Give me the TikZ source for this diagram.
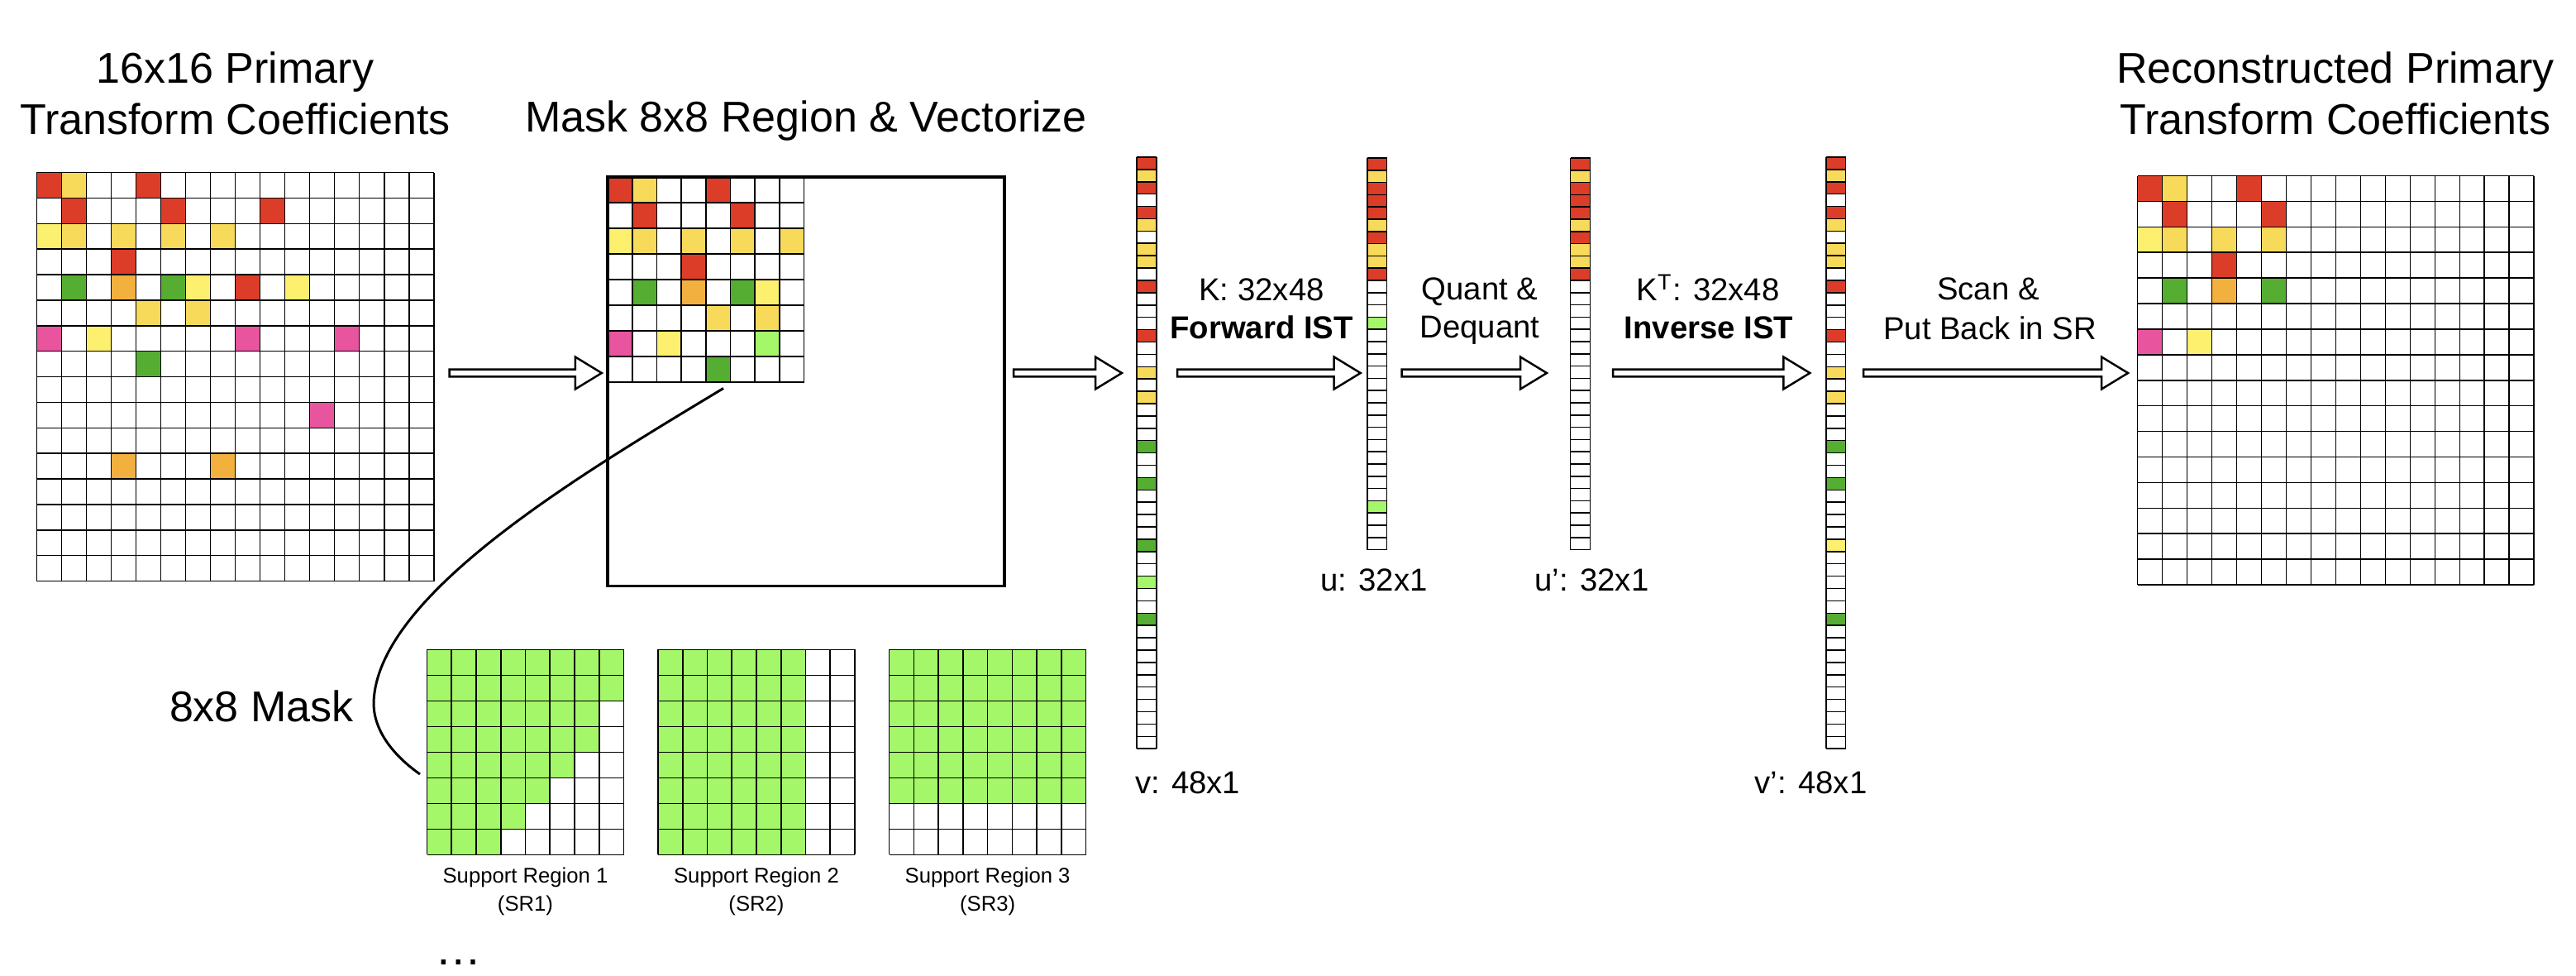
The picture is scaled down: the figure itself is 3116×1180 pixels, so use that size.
\documentclass[tikz,border=0pt]{standalone}
\usepackage{fontspec}
\setmainfont{Liberation Sans}
\usetikzlibrary{calc}
\definecolor{cred}{HTML}{DC3D28}
\definecolor{cgold}{HTML}{F8DA5A}
\definecolor{cly}{HTML}{FCF06E}
\definecolor{corange}{HTML}{F2B13F}
\definecolor{cgreen}{HTML}{55AE32}
\definecolor{clg}{HTML}{A5F76A}
\definecolor{cpink}{HTML}{E9549E}
\newcommand{\ftitle}{\fontsize{14.8}{17}\selectfont}
\newcommand{\flab}{\fontsize{10.9}{13}\selectfont}
\newcommand{\fsr}{\fontsize{7.3}{9}\selectfont}
% grid lines: x0 y0 ncols nrows w h
\newcommand{\mygrid}[6]{%
  \foreach \ii in {0,...,#3}{\draw[gl] ({#1+\ii*#5},#2) -- ({#1+\ii*#5},{#2+#4*#6});}%
  \foreach \jj in {0,...,#4}{\draw[gl] (#1,{#2+\jj*#6}) -- ({#1+#3*#5},{#2+\jj*#6});}%
}
% coloured cells: x0 y0 w h list row/col/colour
\newcommand{\mycells}[5]{%
  \foreach \rr/\cc/\col in {#5}{\fill[\col] ({#1+\cc*#3},{#2+\rr*#4}) rectangle ({#1+(\cc+1)*#3},{#2+(\rr+1)*#4});}%
}
% vector: x0 y0 n w h list index/colour
\newcommand{\myvec}[6]{%
  \foreach \kk/\col in {#6}{\fill[\col] (#1,{#2+(\kk-1)*#5}) rectangle ({#1+#4},{#2+\kk*#5});}%
  \mygrid{#1}{#2}{1}{#3}{#4}{#5}%
}
% hollow block arrow between two named coordinates on one level
\newcommand{\harrow}[2]{%
  \draw[harr] ($(#1)+(0,-4.3)$) -- ($(#2)+(-32,-4.3)$) -- ($(#2)+(-32,-19.5)$) -- (#2)
    -- ($(#2)+(-32,19.5)$) -- ($(#2)+(-32,4.3)$) -- ($(#1)+(0,4.3)$) -- cycle;}
\tikzset{
  gl/.style={line width=0.45pt, black},
  harr/.style={draw=black, fill=white, line width=0.7pt, line join=miter},
  curveline/.style={line width=0.85pt, black},
  boxline/.style={line width=0.9pt, black},
  txt/.style={inner sep=0pt, outer sep=0pt},
}
\begin{document}
\begin{tikzpicture}[x=0.01cm, y=-0.01cm]
\useasboundingbox (0,0) rectangle (3116,1180);

% ---------- left 16x16 grid ----------
\mycells{44.3}{208.6}{30.03}{30.87}{0/0/cred,0/1/cgold,0/4/cred,
  1/1/cred,1/5/cred,1/9/cred,
  2/0/cly,2/1/cgold,2/3/cgold,2/5/cgold,2/7/cgold,
  3/3/cred,
  4/1/cgreen,4/3/corange,4/5/cgreen,4/6/cly,4/8/cred,4/10/cly,
  5/4/cgold,5/6/cgold,
  6/0/cpink,6/2/cly,6/8/cpink,6/12/cpink,
  7/4/cgreen,
  9/11/cpink,
  11/3/corange,11/7/corange}
\mygrid{44.3}{208.6}{16}{16}{30.03}{30.87}

% ---------- mask 8x8 ----------
\mycells{735}{214}{29.7}{31}{0/0/cred,0/1/cgold,0/4/cred,
  1/1/cred,1/5/cred,
  2/0/cly,2/1/cgold,2/3/cgold,2/5/cgold,2/7/cgold,
  3/3/cred,
  4/1/cgreen,4/3/corange,4/5/cgreen,4/6/cly,
  5/4/cgold,5/6/cgold,
  6/0/cpink,6/2/cly,6/6/clg,
  7/4/cgreen}
\mygrid{735}{214}{8}{8}{29.7}{31}
\draw[boxline] (735,214) rectangle (1215,708.3);

% ---------- right 16x16 grid ----------
\mycells{2585.5}{212.6}{29.98}{30.9}{0/0/cred,0/1/cgold,0/4/cred,
  1/1/cred,1/5/cred,
  2/0/cly,2/1/cgold,2/3/cgold,2/5/cgold,
  3/3/cred,
  4/1/cgreen,4/3/corange,4/5/cgreen,
  6/0/cpink,6/2/cly}
\mygrid{2585.5}{212.6}{16}{16}{29.98}{30.9}

% ---------- vectors ----------
\myvec{1375}{190}{48}{24}{14.9}{1/cred,2/cgold,3/cred,5/cred,6/cgold,8/cgold,9/cgold,11/cred,15/cred,18/cgold,20/cgold,24/cgreen,27/cgreen,32/cgreen,35/clg,38/cgreen}
\myvec{1654}{191}{32}{23.5}{14.8}{1/cred,2/cgold,3/cred,4/cred,5/cred,6/cgold,7/cred,8/cgold,9/cgold,10/cred,14/clg,29/clg}
\myvec{1899.5}{191}{32}{24}{14.8}{1/cred,2/cgold,3/cred,4/cred,5/cred,6/cgold,7/cred,8/cgold,9/cgold,10/cred}
\myvec{2209}{190}{48}{23.5}{14.9}{1/cred,2/cgold,3/cred,5/cred,6/cgold,8/cgold,9/cgold,11/cred,15/cred,18/cgold,20/cgold,24/cgreen,27/cgreen,32/cly,38/cgreen}

% ---------- support regions ----------
\foreach \rr/\nn in {0/8,1/8,2/7,3/7,4/6,5/5,6/4,7/3}
  {\fill[clg] (516.5,{785.3+\rr*31}) rectangle ({516.5+\nn*29.75},{785.3+(\rr+1)*31});}
\mygrid{516.5}{785.3}{8}{8}{29.75}{31}
\fill[clg] (796,785.3) rectangle ({796+6*29.75},{785.3+8*31});
\mygrid{796}{785.3}{8}{8}{29.75}{31}
\fill[clg] (1075.6,785.3) rectangle ({1075.6+8*29.75},{785.3+6*31});
\mygrid{1075.6}{785.3}{8}{8}{29.75}{31}

% ---------- mask curve ----------
\coordinate (cs) at (875,469.5);
\coordinate (ce) at (508,936);
\draw[curveline] (cs) .. controls (700,575) and (455,720) .. (452,850)
  .. controls (452,885) and (478,915) .. (ce);

% ---------- arrows ----------
\coordinate (a0s) at (543.6,451); \coordinate (a0e) at (727.8,451);
\coordinate (a1s) at (1226,451);  \coordinate (a1e) at (1357,451);
\coordinate (a2s) at (1424,451);  \coordinate (a2e) at (1645.7,451);
\coordinate (a3s) at (1695.6,451);\coordinate (a3e) at (1871,451);
\coordinate (a4s) at (1951,451);  \coordinate (a4e) at (2189.3,451);
\coordinate (a5s) at (2254,451);  \coordinate (a5e) at (2574,451);
\harrow{a0s}{a0e}
\harrow{a1s}{a1e}
\harrow{a2s}{a2e}
\harrow{a3s}{a3e}
\harrow{a4s}{a4e}
\harrow{a5s}{a5e}

% ---------- texts ----------
\node[txt, anchor=base, font=\ftitle] (t1a) at (284.5,101) {16x16 Primary};
\node[txt, anchor=base, font=\ftitle] (t1b) at (284.5,163) {Transform Coefficients};
\node[txt, anchor=base, font=\ftitle] (t2) at (975,160) {Mask 8x8 Region \& Vectorize};
\node[txt, anchor=base, font=\ftitle] (t3a) at (2825,101) {Reconstructed Primary};
\node[txt, anchor=base, font=\ftitle] (t3b) at (2825,163) {Transform Coefficients};
\node[txt, anchor=base west, font=\ftitle] (mk) at (205,872) {8x8 Mask};

\node[txt, anchor=base, font=\flab] (k1) at (1526,364) {K: 32x48};
\node[txt, anchor=base, font=\flab\bfseries] (k2) at (1526,410) {Forward IST};
\node[txt, anchor=base, font=\flab] (q1) at (1790,363) {Quant \&};
\node[txt, anchor=base, font=\flab] (q2) at (1790,409) {Dequant};
\node[txt, anchor=base, font=\flab] (i1) at (2066,364) {K\textsuperscript{T}: 32x48};
\node[txt, anchor=base, font=\flab\bfseries] (i2) at (2067,410) {Inverse IST};
\node[txt, anchor=base, font=\flab] (s1) at (2405,363) {Scan \&};
\node[txt, anchor=base, font=\flab] (s2) at (2407,410.7) {Put Back in SR};

\node[txt, anchor=base west, font=\flab] (lv) at (1373,959) {v: 48x1};
\node[txt, anchor=base, font=\flab] (lu) at (1662,715) {u: 32x1};
\node[txt, anchor=base, font=\flab] (lu2) at (1925.5,715) {u’: 32x1};
\node[txt, anchor=base, font=\flab] (lv2) at (2190.5,959) {v’: 48x1};

\node[txt, anchor=base, font=\fsr] (sr1a) at (635.5,1067.7) {Support Region 1};
\node[txt, anchor=base, font=\fsr] (sr1b) at (635.5,1101) {(SR1)};
\node[txt, anchor=base, font=\fsr] (sr2a) at (915,1067.7) {Support Region 2};
\node[txt, anchor=base, font=\fsr] (sr2b) at (915,1101) {(SR2)};
\node[txt, anchor=base, font=\fsr] (sr3a) at (1194.6,1067.7) {Support Region 3};
\node[txt, anchor=base, font=\fsr] (sr3b) at (1194.6,1101) {(SR3)};
\node[txt, anchor=base west, font=\fontsize{16}{18}\selectfont] (dots) at (526,1166) {…};
\end{tikzpicture}
\end{document}
